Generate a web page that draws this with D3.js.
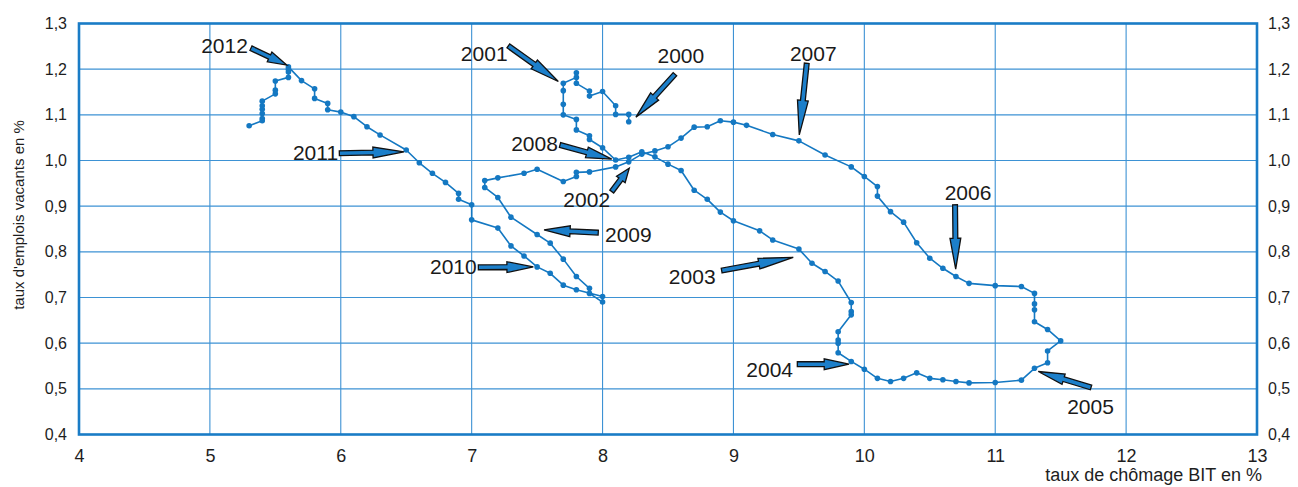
<!DOCTYPE html>
<html lang="fr">
<head>
<meta charset="utf-8">
<script src="https://cdn.jsdelivr.net/npm/d3@7"></script>
<style>
  html, body { margin: 0; padding: 0; background: #ffffff; }
  svg { display: block; font-family: "Liberation Sans", Arial, Helvetica, sans-serif; }
</style>
</head>
<body>
<svg id="chart" width="1298" height="487"></svg>
<script>
// Courbe de Beveridge : taux de chômage BIT (x) et taux d'emplois vacants (y), 2000-2012
const chomage = [
  8.2, 8.2, 8.1, 8.1, 8.0, 7.9, 7.9, 7.8, 7.8, 7.8, 7.7, 7.7, 7.7, 7.7, 7.8, 7.8, 7.9, 7.9, 8.0, 8.1,
  8.2, 8.3, 8.4, 8.5, 8.6, 8.7, 8.8, 8.9, 9.0, 9.2, 9.3, 9.5, 9.6, 9.7, 9.8, 9.9, 9.9, 9.9, 9.8, 9.8,
  9.8, 9.8, 9.9, 10.0, 10.1, 10.2, 10.3, 10.4, 10.5, 10.6, 10.7, 10.8, 11.0, 11.2, 11.3, 11.4, 11.4, 11.5, 11.4, 11.3,
  11.3, 11.3, 11.3, 11.2, 11.0, 10.8, 10.7, 10.6, 10.5, 10.4, 10.3, 10.2, 10.1, 10.1, 10.0, 9.9, 9.7, 9.5, 9.3, 9.1,
  9.0, 8.9, 8.8, 8.7, 8.6, 8.5, 8.4, 8.3, 8.2, 8.1, 7.9, 7.8, 7.8, 7.7, 7.5, 7.4, 7.2, 7.1, 7.1, 7.2,
  7.3, 7.5, 7.6, 7.7, 7.8, 7.9, 7.9, 8.0, 8.0, 7.8, 7.7, 7.6, 7.5, 7.4, 7.3, 7.2, 7.0, 7.0, 6.9, 6.9,
  6.8, 6.7, 6.6, 6.5, 6.3, 6.2, 6.1, 6.0, 5.9, 5.9, 5.8, 5.8, 5.7, 5.6, 5.6, 5.6, 5.6, 5.5, 5.5, 5.5,
  5.4, 5.4, 5.4, 5.4, 5.4, 5.4, 5.3
];
const emploisVacants = [
  1.085, 1.101, 1.101, 1.120, 1.151, 1.141, 1.152, 1.169, 1.192, 1.182, 1.169, 1.153, 1.123, 1.100, 1.090, 1.067, 1.054, 1.046, 1.028, 1.001,
  1.007, 1.019, 1.008, 0.992, 0.978, 0.935, 0.915, 0.887, 0.868, 0.846, 0.826, 0.806, 0.775, 0.757, 0.736, 0.689, 0.669, 0.662, 0.625, 0.607,
  0.600, 0.579, 0.560, 0.543, 0.523, 0.516, 0.523, 0.535, 0.523, 0.520, 0.516, 0.513, 0.514, 0.519, 0.545, 0.557, 0.583, 0.605, 0.630, 0.647,
  0.673, 0.686, 0.709, 0.724, 0.726, 0.731, 0.746, 0.764, 0.786, 0.820, 0.865, 0.888, 0.922, 0.943, 0.965, 0.986, 1.012, 1.043, 1.057, 1.077,
  1.084, 1.087, 1.074, 1.073, 1.049, 1.030, 1.021, 1.014, 0.997, 0.986, 0.975, 0.974, 0.965, 0.954, 0.981, 0.972, 0.962, 0.956, 0.941, 0.919,
  0.876, 0.838, 0.819, 0.784, 0.746, 0.720, 0.709, 0.690, 0.702, 0.717, 0.727, 0.753, 0.767, 0.791, 0.813, 0.852, 0.870, 0.903, 0.915, 0.928,
  0.952, 0.972, 0.995, 1.023, 1.056, 1.074, 1.096, 1.106, 1.111, 1.125, 1.136, 1.157, 1.175, 1.205, 1.200, 1.194, 1.182, 1.174, 1.154, 1.146,
  1.130, 1.120, 1.112, 1.103, 1.092, 1.087, 1.076
];

const xTicks = [4, 5, 6, 7, 8, 9, 10, 11, 12, 13];
const yTicks = [0.4, 0.5, 0.6, 0.7, 0.8, 0.9, 1.0, 1.1, 1.2, 1.3];

// Repères annuels : libellé, position du texte, origine et pointe de la flèche (unités des axes)
const annees = ["2000", "2001", "2002", "2003", "2004", "2005", "2006", "2007", "2008", "2009", "2010", "2011", "2012"];
const reperes = [
  { annee: "2000", lx: 8.598, ly: 1.229, ax: 8.553, ay: 1.189, bx: 8.255, by: 1.095 },
  { annee: "2001", lx: 7.096, ly: 1.235, ax: 7.280, ay: 1.251, bx: 7.662, by: 1.173 },
  { annee: "2002", lx: 7.879, ly: 0.915, ax: 8.070, ay: 0.932, bx: 8.204, by: 0.983 },
  { annee: "2003", lx: 8.685, ly: 0.746, ax: 8.910, ay: 0.759, bx: 9.457, by: 0.788 },
  { annee: "2004", lx: 9.277, ly: 0.543, ax: 9.488, ay: 0.554, bx: 9.883, by: 0.554 },
  { annee: "2005", lx: 11.728, ly: 0.462, ax: 11.732, ay: 0.503, bx: 11.329, by: 0.538 },
  { annee: "2006", lx: 10.792, ly: 0.930, ax: 10.693, ay: 0.903, bx: 10.698, by: 0.762 },
  { annee: "2007", lx: 9.610, ly: 1.235, ax: 9.560, ay: 1.213, bx: 9.503, by: 1.056 },
  { annee: "2008", lx: 7.480, ly: 1.038, ax: 7.675, ay: 1.034, bx: 8.070, by: 1.003 },
  { annee: "2009", lx: 8.197, ly: 0.839, ax: 7.967, ay: 0.842, bx: 7.553, by: 0.848 },
  { annee: "2010", lx: 6.860, ly: 0.769, ax: 7.051, ay: 0.766, bx: 7.471, by: 0.767 },
  { annee: "2011", lx: 5.807, ly: 1.017, ax: 5.989, ay: 1.016, bx: 6.483, by: 1.019 },
  { annee: "2012", lx: 5.112, ly: 1.251, ax: 5.314, ay: 1.246, bx: 5.587, by: 1.209 }
];

const W = 1298, H = 487;
const margin = { top: 23.5, right: 41, bottom: 52.5, left: 79 };
const innerW = W - margin.left - margin.right;
const innerH = H - margin.top - margin.bottom;

const blue = "#1478c2";
const gridBlue = "#3d92d4";

const svg = d3.select("#chart");
const g = svg.append("g").attr("transform", `translate(${margin.left},${margin.top})`);

const x = d3.scaleLinear().domain([4, 13]).range([0, innerW]);
const y = d3.scaleLinear().domain([0.4, 1.3]).range([innerH, 0]);

const fmt = d => d3.format(".1f")(d).replace(".", ",");

// Grille
g.append("g")
  .selectAll("line.v")
  .data(xTicks.slice(1, -1))
  .join("line")
  .attr("x1", d => x(d)).attr("x2", d => x(d))
  .attr("y1", 0).attr("y2", innerH)
  .attr("stroke", gridBlue).attr("stroke-width", 1.1);
g.append("g")
  .selectAll("line.h")
  .data(yTicks.slice(1, -1))
  .join("line")
  .attr("x1", 0).attr("x2", innerW)
  .attr("y1", d => y(d)).attr("y2", d => y(d))
  .attr("stroke", gridBlue).attr("stroke-width", 1.1);

// Cadre
g.append("rect")
  .attr("x", 0).attr("y", 0).attr("width", innerW).attr("height", innerH)
  .attr("fill", "none").attr("stroke", "#1a7cc6").attr("stroke-width", 2.6);

// Axes
const styleAxis = (sel, size) => {
  sel.select(".domain").remove();
  sel.selectAll(".tick line").remove();
  sel.selectAll("text").attr("fill", "#1e1e1e").style("font-size", size + "px")
    .style("font-family", '"Liberation Sans", Arial, sans-serif');
};
g.append("g")
  .attr("transform", `translate(0,${innerH})`)
  .call(d3.axisBottom(x).tickValues(xTicks).tickFormat(d3.format("d")).tickSize(0).tickPadding(15))
  .call(s => styleAxis(s, 18));
g.append("g")
  .call(d3.axisLeft(y).tickValues(yTicks).tickFormat(fmt).tickSize(0).tickPadding(12))
  .call(s => styleAxis(s, 16));
g.append("g")
  .attr("transform", `translate(${innerW},0)`)
  .call(d3.axisRight(y).tickValues(yTicks).tickFormat(fmt).tickSize(0).tickPadding(11))
  .call(s => styleAxis(s, 16));

// Titres des axes
svg.append("text")
  .attr("x", 1262).attr("y", 481)
  .attr("text-anchor", "end")
  .attr("fill", "#1e1e1e").style("font-size", "18px")
  .text("taux de chômage BIT en %");
svg.append("text")
  .attr("transform", "translate(24,215) rotate(-90)")
  .attr("text-anchor", "middle")
  .attr("fill", "#1e1e1e").style("font-size", "15px")
  .text("taux d'emplois vacants en %");

// Trajectoire
const pts = chomage.map((c, i) => [c, emploisVacants[i]]);
const line = d3.line().x(d => x(d[0])).y(d => y(d[1]));
g.append("path")
  .datum(pts)
  .attr("d", line)
  .attr("fill", "none")
  .attr("stroke", blue)
  .attr("stroke-width", 1.6)
  .attr("stroke-linejoin", "round");
g.append("g")
  .selectAll("circle")
  .data(pts)
  .join("circle")
  .attr("cx", d => x(d[0]))
  .attr("cy", d => y(d[1]))
  .attr("r", 2.8)
  .attr("fill", blue);

// Flèches et années
function arrowPath(x0, y0, x1, y1) {
  const dx = x1 - x0, dy = y1 - y0;
  const len = Math.hypot(dx, dy);
  const ux = dx / len, uy = dy / len;
  const nx = -uy, ny = ux;
  const head = len * 0.48;
  const sw = 2.4, hw = 5.4;
  const bx = x1 - ux * head, by = y1 - uy * head;
  const p = [
    [x0 + nx * sw, y0 + ny * sw],
    [bx + nx * sw, by + ny * sw],
    [bx + nx * hw, by + ny * hw],
    [x1, y1],
    [bx - nx * hw, by - ny * hw],
    [bx - nx * sw, by - ny * sw],
    [x0 - nx * sw, y0 - ny * sw]
  ];
  return "M" + p.map(q => q.join(",")).join("L") + "Z";
}

const rep = g.append("g").selectAll("g").data(reperes.filter(r => annees.includes(r.annee))).join("g");
rep.append("path")
  .attr("d", r => arrowPath(x(r.ax), y(r.ay), x(r.bx), y(r.by)))
  .attr("fill", "#1c7fca")
  .attr("stroke", "#111")
  .attr("stroke-width", 1.3)
  .attr("stroke-linejoin", "miter");
rep.append("text")
  .attr("x", r => x(r.lx))
  .attr("y", r => y(r.ly))
  .attr("dy", "0.36em")
  .attr("text-anchor", "middle")
  .attr("fill", "#1a1a1a")
  .style("font-size", "21px")
  .text(r => r.annee);
</script>
</body>
</html>
